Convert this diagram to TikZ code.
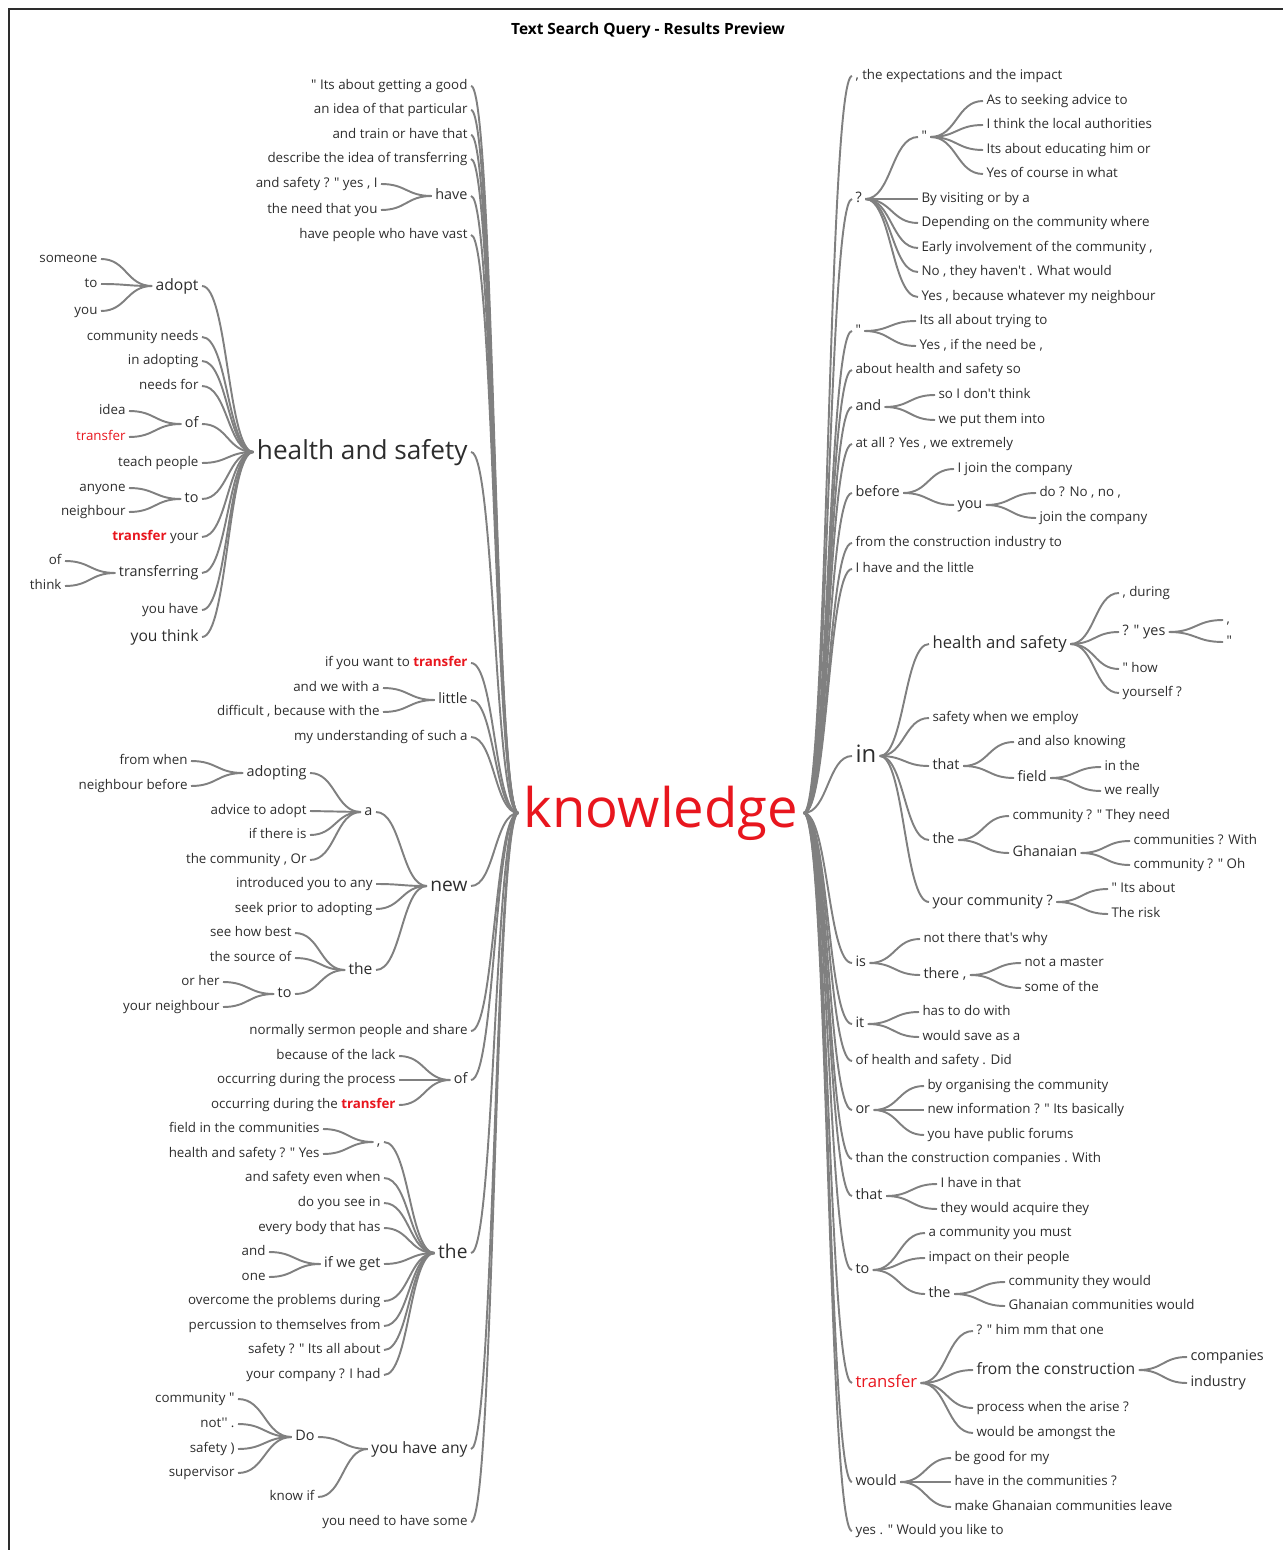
\documentclass[tikz,border=0pt]{standalone}
\usepackage{fontspec}
\setmainfont{Open Sans}[Ligatures=TeXOff]
\usepackage{xcolor}
\usepackage{tikz}
\usetikzlibrary{calc}

\definecolor{wordred}{RGB}{232,22,30}
\definecolor{wordgray}{RGB}{128,128,128}
\definecolor{wordtext}{RGB}{45,45,45}

\newcommand{\hit}{\textcolor{wordred}{\bfseries transfer}}
\newcommand{\wire}[2]{\path ($(#1.east)!0.5!(#2.west)$) coordinate (wm);
    \draw[branch] (#1.east) .. controls (wm |- #1.east) and (wm |- #2.west) .. (#2.west);}

\begin{document}
\begin{tikzpicture}[x=0.02cm, y=-0.02cm,
                every node/.append style = {text=wordtext, inner sep=1.8pt},
                lw/.style = {anchor=east},
                rw/.style = {anchor=west},
                s1/.style = {font=\fontsize{7.6}{9}\selectfont, text height=5.4pt, text depth=1.3pt},
                s2/.style = {font=\fontsize{8.2}{10}\selectfont, text height=5.8pt, text depth=1.4pt},
                s3/.style = {font=\fontsize{8.9}{10}\selectfont, text height=6.3pt, text depth=1.5pt},
                s4/.style = {font=\fontsize{9.5}{11}\selectfont, text height=6.7pt, text depth=1.6pt},
                s5/.style = {font=\fontsize{10.9}{12}\selectfont, text height=7.7pt, text depth=1.9pt},
                s6/.style = {font=\fontsize{13.6}{15}\selectfont, text height=9.7pt, text depth=2.3pt},
                s7/.style = {font=\fontsize{14.9}{17}\selectfont, text height=10.6pt, text depth=2.5pt},
                s8/.style = {font=\fontsize{31}{33}\selectfont, text height=22pt, text depth=5.3pt},
                branch/.style = {draw=wordgray, line width=1.1pt}]
            \useasboundingbox (0,0) rectangle (1283,1550);
            \draw[wordtext, line width=0.7pt] (9,1550) -- (9,9) -- (1283,9);
            \node[font=\fontsize{8.8}{10}\selectfont\bfseries, text=black] (ntitle) at (648,30) {Text Search Query - Results Preview};
            \node[s8, text=wordred, inner sep=3pt] (nroot) at (661,813) {knowledge};

            \node[lw,s1] (lgood) at (471,86) {" Its about getting a good};
            \node[lw,s1] (lpart) at (471,110) {an idea of that particular};
            \node[lw,s1] (ltrain) at (471,135) {and train or have that};
            \node[lw,s1] (ldescr) at (471,159) {describe the idea of transferring};
            \node[lw,s2] (lhave) at (471,196) {have};
            \node[lw,s1] (lyes) at (381,184) {and safety ? " yes , I};
            \node[lw,s1] (lneed) at (381,210) {the need that you};
            \node[lw,s1] (lvast) at (471,235) {have people who have vast};
            \node[lw,s7] (lhs) at (471,452) {health and safety};
            \node[lw,s3] (ladopt) at (202,286) {adopt};
            \node[lw,s1] (lsomeone) at (101,259) {someone};
            \node[lw,s1] (lto1) at (101,284) {to};
            \node[lw,s1] (lyou) at (101,311) {you};
            \node[lw,s1] (lcneeds) at (202,337) {community needs};
            \node[lw,s1] (linadopting) at (202,361) {in adopting};
            \node[lw,s1] (lneedsfor) at (202,386) {needs for};
            \node[lw,s2] (lof1) at (202,424) {of};
            \node[lw,s1] (lidea) at (129,411) {idea};
            \node[lw,s1,text=wordred] (ltransfer) at (129,437) {transfer};
            \node[lw,s1] (lteach) at (202,463) {teach people};
            \node[lw,s2] (lto2) at (202,499) {to};
            \node[lw,s1] (lanyone) at (129,488) {anyone};
            \node[lw,s1] (lneighbour) at (129,512) {neighbour};
            \node[lw,s1] (lyour) at (202,537) {\hit{} your};
            \node[lw,s2] (ltransferring) at (202,573) {transferring};
            \node[lw,s1] (lof2) at (65,561) {of};
            \node[lw,s1] (lthink) at (65,586) {think};
            \node[lw,s1] (lyouhave) at (202,610) {you have};
            \node[lw,s3] (lyouthink) at (202,637) {you think};
            \node[lw,s1] (lwant) at (471,663) {if you want to \hit};
            \node[lw,s2] (llittle) at (471,700) {little};
            \node[lw,s1] (lwith) at (383,688) {and we with a};
            \node[lw,s1] (ldifficult) at (383,712) {difficult , because with the};
            \node[lw,s1] (lsuch) at (471,737) {my understanding of such a};
            \node[lw,s5] (lnew) at (471,886) {new};
            \node[lw,s2] (la) at (376,812) {a};
            \node[lw,s2] (ladopting) at (310,773) {adopting};
            \node[lw,s1] (lwhen) at (191,761) {from when};
            \node[lw,s1] (lbefore) at (191,786) {neighbour before};
            \node[lw,s1] (ladvice) at (310,811) {advice to adopt};
            \node[lw,s1] (lthereis) at (310,835) {if there is};
            \node[lw,s1] (lor) at (310,860) {the community , Or};
            \node[lw,s1] (lany) at (376,884) {introduced you to any};
            \node[lw,s1] (lprior) at (376,909) {seek prior to adopting};
            \node[lw,s3] (lthe1) at (376,970) {the};
            \node[lw,s1] (lbest) at (295,933) {see how best};
            \node[lw,s1] (lsource) at (295,958) {the source of};
            \node[lw,s2] (lto3) at (295,994) {to};
            \node[lw,s1] (lher) at (223,982) {or her};
            \node[lw,s1] (lyourn) at (223,1007) {your neighbour};
            \node[lw,s1] (lsermon) at (471,1031) {normally sermon people and share};
            \node[lw,s2] (lof3) at (471,1080) {of};
            \node[lw,s1] (llack) at (399,1056) {because of the lack};
            \node[lw,s1] (lprocess) at (399,1080) {occurring during the process};
            \node[lw,s1] (lduring) at (399,1105) {occurring during the \hit};
            \node[lw,s5] (lthe2) at (471,1253) {the};
            \node[lw,s2] (lcomma) at (384,1142) {,};
            \node[lw,s1] (lfield) at (323,1129) {field in the communities};
            \node[lw,s1] (lhsyes) at (323,1154) {health and safety ? " Yes};
            \node[lw,s1] (leven) at (384,1178) {and safety even when};
            \node[lw,s1] (lseein) at (384,1203) {do you see in};
            \node[lw,s1] (lbody) at (384,1228) {every body that has};
            \node[lw,s2] (lget) at (384,1264) {if we get};
            \node[lw,s1] (land) at (269,1252) {and};
            \node[lw,s1] (lone) at (269,1277) {one};
            \node[lw,s1] (lproblems) at (384,1301) {overcome the problems during};
            \node[lw,s1] (lpercussion) at (384,1326) {percussion to themselves from};
            \node[lw,s1] (lallabout) at (384,1350) {safety ? " Its all about};
            \node[lw,s1] (lhad) at (384,1375) {your company ? I had};
            \node[lw,s3] (lhaveany) at (471,1449) {you have any};
            \node[lw,s2] (ldo) at (318,1437) {Do};
            \node[lw,s1] (lcommunity) at (238,1399) {community "};
            \node[lw,s1] (lnot) at (238,1424) {not'' .};
            \node[lw,s1] (lsafety) at (238,1449) {safety )};
            \node[lw,s1] (lsupervisor) at (238,1473) {supervisor};
            \node[lw,s1] (lknow) at (318,1497) {know if};
            \node[lw,s1] (lsome) at (471,1522) {you need to have some};

            \node[rw,s1] (rimpact) at (852,76) {, the expectations and the impact};
            \node[rw,s2] (rq) at (852,199) {?};
            \node[rw,s1] (rquote1) at (918,137) {"};
            \node[rw,s1] (radvice) at (983,101) {As to seeking advice to};
            \node[rw,s1] (rlocal) at (983,125) {I think the local authorities};
            \node[rw,s1] (reducating) at (983,150) {Its about educating him or};
            \node[rw,s1] (rcourse) at (983,174) {Yes of course in what};
            \node[rw,s1] (rvisiting) at (918,199) {By visiting or by a};
            \node[rw,s1] (rdepending) at (918,223) {Depending on the community where};
            \node[rw,s1] (rearly) at (918,248) {Early involvement of the community ,};
            \node[rw,s1] (rhaven) at (918,272) {No , they haven't . What would};
            \node[rw,s1] (rwhatever) at (918,297) {Yes , because whatever my neighbour};
            \node[rw,s1] (rquote2) at (852,331) {"};
            \node[rw,s1] (rtrying) at (916,321) {Its all about trying to};
            \node[rw,s1] (rneedbe) at (916,346) {Yes , if the need be ,};
            \node[rw,s1] (rsafetyso) at (852,370) {about health and safety so};
            \node[rw,s2] (rand) at (852,407) {and};
            \node[rw,s1] (rdont) at (935,395) {so I don't think};
            \node[rw,s1] (rinto) at (935,420) {we put them into};
            \node[rw,s1] (rextremely) at (852,444) {at all ? Yes , we extremely};
            \node[rw,s2] (rbefore) at (852,493) {before};
            \node[rw,s1] (rjoin) at (954,469) {I join the company};
            \node[rw,s2] (ryou) at (954,505) {you};
            \node[rw,s1] (rno) at (1036,493) {do ? No , no ,};
            \node[rw,s1] (rjoin2) at (1036,518) {join the company};
            \node[rw,s1] (rindustry) at (852,543) {from the construction industry to};
            \node[rw,s1] (rlittle) at (852,569) {I have and the little};
            \node[rw,s6] (rin) at (852,756) {in};
            \node[rw,s4] (rhs) at (929,644) {health and safety};
            \node[rw,s1] (rduring) at (1119,593) {, during};
            \node[rw,s2] (ryes) at (1119,632) {? " yes};
            \node[rw,s1] (rc1) at (1223,620) {,};
            \node[rw,s1] (rc2) at (1223,642) {"};
            \node[rw,s1] (rhow) at (1119,669) {" how};
            \node[rw,s1] (ryourself) at (1119,693) {yourself ?};
            \node[rw,s1] (remploy) at (929,718) {safety when we employ};
            \node[rw,s2] (rthat1) at (929,766) {that};
            \node[rw,s1] (rknowing) at (1014,742) {and also knowing};
            \node[rw,s2] (rfield) at (1014,778) {field};
            \node[rw,s1] (rinthe) at (1101,767) {in the};
            \node[rw,s1] (rreally) at (1101,791) {we really};
            \node[rw,s2] (rthe1) at (929,840) {the};
            \node[rw,s1] (rtheyneed) at (1009,816) {community ? " They need};
            \node[rw,s2] (rghanaian) at (1009,853) {Ghanaian};
            \node[rw,s1] (rwith) at (1130,841) {communities ? With};
            \node[rw,s1] (roh) at (1130,865) {community ? " Oh};
            \node[rw,s2] (ryourc) at (929,902) {your community ?};
            \node[rw,s1] (rits) at (1108,889) {" Its about};
            \node[rw,s1] (rrisk) at (1108,914) {The risk};
            \node[rw,s2] (ris) at (852,963) {is};
            \node[rw,s1] (rwhy) at (920,939) {not there that's why};
            \node[rw,s2] (rthere) at (920,975) {there ,};
            \node[rw,s1] (rmaster) at (1021,963) {not a master};
            \node[rw,s1] (rsomeof) at (1021,988) {some of the};
            \node[rw,s2] (rit) at (852,1024) {it};
            \node[rw,s1] (rdowith) at (919,1012) {has to do with};
            \node[rw,s1] (rsave) at (919,1037) {would save as a};
            \node[rw,s1] (rdid) at (852,1061) {of health and safety . Did};
            \node[rw,s2] (ror) at (852,1110) {or};
            \node[rw,s1] (rorganising) at (924,1086) {by organising the community};
            \node[rw,s1] (rbasically) at (924,1110) {new information ? " Its basically};
            \node[rw,s1] (rforums) at (924,1135) {you have public forums};
            \node[rw,s1] (rcompanies) at (852,1159) {than the construction companies . With};
            \node[rw,s2] (rthat2) at (852,1196) {that};
            \node[rw,s1] (rinthat) at (937,1184) {I have in that};
            \node[rw,s1] (racquire) at (937,1209) {they would acquire they};
            \node[rw,s2] (rto) at (852,1270) {to};
            \node[rw,s1] (rmust) at (925,1233) {a community you must};
            \node[rw,s1] (rpeople) at (925,1258) {impact on their people};
            \node[rw,s2] (rthe2) at (925,1294) {the};
            \node[rw,s1] (rtheywould) at (1005,1282) {community they would};
            \node[rw,s1] (rghwould) at (1005,1306) {Ghanaian communities would};
            \node[rw,s4,text=wordred] (rtransfer) at (852,1383) {transfer};
            \node[rw,s1] (rone) at (973,1331) {? " him mm that one};
            \node[rw,s3] (rfrom) at (973,1370) {from the construction};
            \node[rw,s2] (rcomp) at (1187,1357) {companies};
            \node[rw,s2] (rind) at (1187,1383) {industry};
            \node[rw,s1] (rarise) at (973,1408) {process when the arise ?};
            \node[rw,s1] (ramongst) at (973,1433) {would be amongst the};
            \node[rw,s2] (rwould) at (852,1482) {would};
            \node[rw,s1] (rgood) at (951,1458) {be good for my};
            \node[rw,s1] (rhavein) at (951,1482) {have in the communities ?};
            \node[rw,s1] (rleave) at (951,1507) {make Ghanaian communities leave};
            \node[rw,s1] (rlike) at (852,1531) {yes . " Would you like to};

            \foreach \c in {lgood,lpart,ltrain,ldescr,lhave,lvast,lhs,lwant,llittle,lsuch,lnew,lsermon,lof3,lthe2,lhaveany,lsome}
                {\wire{\c}{nroot}}
            \foreach \c/\p in {lyes/lhave,lneed/lhave,
                    ladopt/lhs,lcneeds/lhs,linadopting/lhs,lneedsfor/lhs,lof1/lhs,lteach/lhs,lto2/lhs,lyour/lhs,ltransferring/lhs,lyouhave/lhs,lyouthink/lhs,
                    lsomeone/ladopt,lto1/ladopt,lyou/ladopt,lidea/lof1,ltransfer/lof1,lanyone/lto2,lneighbour/lto2,lof2/ltransferring,lthink/ltransferring,
                    lwith/llittle,ldifficult/llittle,
                    la/lnew,lany/lnew,lprior/lnew,lthe1/lnew,ladopting/la,ladvice/la,lthereis/la,lor/la,lwhen/ladopting,lbefore/ladopting,
                    lbest/lthe1,lsource/lthe1,lto3/lthe1,lher/lto3,lyourn/lto3,
                    llack/lof3,lprocess/lof3,lduring/lof3,
                    lcomma/lthe2,leven/lthe2,lseein/lthe2,lbody/lthe2,lget/lthe2,lproblems/lthe2,lpercussion/lthe2,lallabout/lthe2,lhad/lthe2,
                    lfield/lcomma,lhsyes/lcomma,land/lget,lone/lget,
                    ldo/lhaveany,lknow/lhaveany,lcommunity/ldo,lnot/ldo,lsafety/ldo,lsupervisor/ldo}
                {\wire{\c}{\p}}
            \foreach \c in {rimpact,rq,rquote2,rsafetyso,rand,rextremely,rbefore,rindustry,rlittle,rin,ris,rit,rdid,ror,rcompanies,rthat2,rto,rtransfer,rwould,rlike}
                {\wire{nroot}{\c}}
            \foreach \p/\c in {rq/rquote1,rq/rvisiting,rq/rdepending,rq/rearly,rq/rhaven,rq/rwhatever,
                    rquote1/radvice,rquote1/rlocal,rquote1/reducating,rquote1/rcourse,
                    rquote2/rtrying,rquote2/rneedbe,rand/rdont,rand/rinto,
                    rbefore/rjoin,rbefore/ryou,ryou/rno,ryou/rjoin2,
                    rin/rhs,rin/remploy,rin/rthat1,rin/rthe1,rin/ryourc,
                    rhs/rduring,rhs/ryes,rhs/rhow,rhs/ryourself,ryes/rc1,ryes/rc2,
                    rthat1/rknowing,rthat1/rfield,rfield/rinthe,rfield/rreally,
                    rthe1/rtheyneed,rthe1/rghanaian,rghanaian/rwith,rghanaian/roh,ryourc/rits,ryourc/rrisk,
                    ris/rwhy,ris/rthere,rthere/rmaster,rthere/rsomeof,rit/rdowith,rit/rsave,
                    ror/rorganising,ror/rbasically,ror/rforums,rthat2/rinthat,rthat2/racquire,
                    rto/rmust,rto/rpeople,rto/rthe2,rthe2/rtheywould,rthe2/rghwould,
                    rtransfer/rone,rtransfer/rfrom,rtransfer/rarise,rtransfer/ramongst,rfrom/rcomp,rfrom/rind,
                    rwould/rgood,rwould/rhavein,rwould/rleave}
                {\wire{\p}{\c}}
\end{tikzpicture}
\end{document}
